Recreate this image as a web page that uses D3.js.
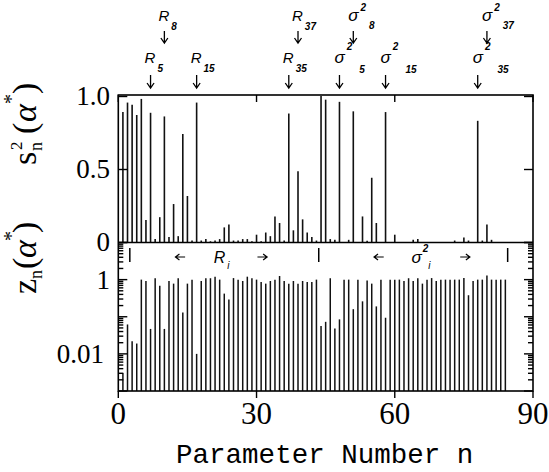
<!DOCTYPE html>
<html>
<head>
<meta charset="utf-8">
<script src="https://cdn.jsdelivr.net/npm/d3@7"></script>
<style>
  body { margin: 0; background: #fff; }
</style>
</head>
<body>
<div id="chart"></div>
<script>
// parameter numbers 1..84
var params = d3.range(1, 85);

// s_n^2(alpha*)
var s2 = [0.89, 0.955, 0.94, 0.87, 0.98, 0.15, 0.885, 0.02, 0.17, 0.86,
          0.035, 0.26, 0.04, 0.74, 0.315, 0.01, 0.955, 0.01, 0.02, 0.005,
          0.01, 0.02, 0.10, 0.12, 0.01, 0.01, 0.02, 0.02, 0.005, 0.05,
          0.005, 0.065, 0.04, 0.175, 0.13, 0.01, 0.88, 0.08, 0.485, 0.155,
          0.065, 0.035, 0.01, 1.0, 0.975, 0.02, 0.015, 0.96, 0, 0.015,
          0.895, 0, 0.175, 0.008, 0.44, 0.13, 0, 0.89, 0, 0.05,
          0, 0, 0, 0.015, 0.02, 0, 0, 0, 0, 0,
          0, 0, 0.01, 0, 0.03, 0.01, 0, 0.83, 0.01, 0.12,
          0.015, 0, 0, 0];

var zn = [0.003, 0.062, 0.022, 0.019, 1.0, 0.92, 0.047, 1.09, 0.68, 0.047,
          0.92, 0.78, 1.09, 0.13, 0.78, 1.0, 0.01, 0.92, 1.09, 1.09,
          1.2, 1.0, 0.42, 0.29, 1.1, 1.0, 0.92, 1.2, 1.09, 1.0,
          0.86, 0.78, 0.92, 1.0, 1.25, 0.92, 0.78, 0.92, 0.78, 0.92,
          0.86, 0.86, 1.0, 0.056, 0.073, 1.09, 0.048, 0.085, 1.0, 1.0,
          0.16, 1.0, 0.26, 0.95, 0.78, 0.19, 1.0, 0.094, 1.0, 1.0,
          1.0, 0.92, 1.09, 0.92, 1.09, 0.78, 1.0, 1.1, 0.92, 1.0,
          1.0, 1.0, 1.0, 1.0, 1.1, 0.38, 0.92, 1.0, 1.0, 1.3,
          1.0, 1.0, 1.0, 1.0];

var xTicks = [0, 30, 60, 90];
var topTicks = [0, 0.5, 1.0];
var topTickLabels = ["0", "0.5", "1.0"];
var botTicks = [1, 0.01];
var botTickLabels = ["1", "0.01"];

// annotations above the upper panel: parameter n, symbol, index, row
var notes = [
  {n: 7,  sym: "R", idx: "5",  row: 2},
  {n: 10, sym: "R", idx: "8",  row: 1},
  {n: 17, sym: "R", idx: "15", row: 2},
  {n: 37, sym: "R", idx: "35", row: 2},
  {n: 39, sym: "R", idx: "37", row: 1},
  {n: 48, sym: "s", idx: "5",  row: 2},
  {n: 51, sym: "s", idx: "8",  row: 1},
  {n: 58, sym: "s", idx: "15", row: 2},
  {n: 78, sym: "s", idx: "35", row: 2},
  {n: 80, sym: "s", idx: "37", row: 1}
];
// group boundaries for R_i and sigma^2_i
var groupEdges = [2.5, 43.5, 84.5];

var width = 549, height = 472;
var left = 118.3, right = 533;
var topY = 95, midY = 242.5, botY = 391;

var SERIF = '"Liberation Serif", "Zzz Nope"';
var SANS = '"Liberation Sans", "Zzz Nope"';
var MONO = '"Liberation Mono", "Zzz Nope"';

var svg = d3.select("#chart").append("svg")
    .attr("width", width)
    .attr("height", height);

var x = d3.scaleLinear().domain([0, 90]).range([left, right]);
var yTop = d3.scaleLinear().domain([0, 1]).range([242, 96]);
var yBot = d3.scaleLog().domain([0.001, 10]).range([botY, midY]);

// bars, upper panel
svg.append("g").selectAll("line")
    .data(params.filter(function(d, i) { return s2[i] > 0; }))
    .enter().append("line")
    .attr("x1", function(d) { return x(d); })
    .attr("x2", function(d) { return x(d); })
    .attr("y1", yTop(0))
    .attr("y2", function(d) { return yTop(s2[d - 1]); })
    .style("stroke", "#111")
    .style("stroke-width", 1.6);

// bars, lower panel
svg.append("g").selectAll("line")
    .data(params)
    .enter().append("line")
    .attr("x1", function(d) { return x(d); })
    .attr("x2", function(d) { return x(d); })
    .attr("y1", botY)
    .attr("y2", function(d) { return yBot(zn[d - 1]); })
    .style("stroke", "#111")
    .style("stroke-width", 1.5);

// frames
svg.append("rect")
    .attr("x", left).attr("y", topY)
    .attr("width", right - left).attr("height", botY - topY)
    .style("fill", "none").style("stroke", "#000").style("stroke-width", 1.6);
svg.append("line")
    .attr("x1", left).attr("x2", right).attr("y1", midY).attr("y2", midY)
    .style("stroke", "#000").style("stroke-width", 1.6);

// upper panel y ticks (inside, both sides)
var axTopL = d3.axisRight(yTop).tickValues(topTicks).tickSize(9).tickFormat("");
var axTopR = d3.axisLeft(yTop).tickValues(topTicks).tickSize(9).tickFormat("");
svg.append("g").attr("transform", "translate(" + left + ",0)").call(axTopL);
svg.append("g").attr("transform", "translate(" + right + ",0)").call(axTopR);

// lower panel log ticks (inside, both sides)
var logMajor = [0.001, 0.01, 0.1, 1, 10];
var logMinor = [];
[0.001, 0.01, 0.1, 1].forEach(function(d) {
  for (var k = 2; k < 10; k++) logMinor.push(d * k);
});
[[left, 1], [right, -1]].forEach(function(s) {
  svg.append("g").selectAll("line").data(logMajor).enter().append("line")
      .attr("x1", s[0]).attr("x2", s[0] + s[1] * 9)
      .attr("y1", yBot).attr("y2", yBot);
  svg.append("g").selectAll("line").data(logMinor).enter().append("line")
      .attr("x1", s[0]).attr("x2", s[0] + s[1] * 5)
      .attr("y1", yBot).attr("y2", yBot);
});

// x ticks: inside at the top frame, outside at the bottom
svg.append("g").selectAll("line").data(xTicks).enter().append("line")
    .attr("x1", x).attr("x2", x).attr("y1", topY).attr("y2", topY + 7);
svg.append("g").selectAll("line").data(xTicks).enter().append("line")
    .attr("x1", x).attr("x2", x).attr("y1", botY).attr("y2", botY + 7);

svg.selectAll(".domain").remove();
svg.selectAll("line").filter(function() { return !this.style.stroke; })
    .style("stroke", "#000").style("stroke-width", 1.4);
svg.selectAll(".tick line").style("stroke", "#000").style("stroke-width", 1.4);

// tick labels
svg.append("g").selectAll("text").data(xTicks).enter().append("text")
    .attr("x", x).attr("y", 424)
    .attr("text-anchor", "middle")
    .style("font-family", SERIF).style("font-size", "31px")
    .text(function(d) { return d; });

svg.append("g").selectAll("text").data(topTicks).enter().append("text")
    .attr("x", 110).attr("y", function(d) { return yTop(d) + 9; })
    .attr("text-anchor", "end")
    .style("font-family", SERIF).style("font-size", "27px")
    .text(function(d, i) { return topTickLabels[i]; });

svg.append("g").selectAll("text").data(botTicks).enter().append("text")
    .attr("x", function(d, i) { return i === 0 ? 110 : 104; })
    .attr("y", function(d) { return yBot(d) + 9; })
    .attr("text-anchor", "end")
    .style("font-family", SERIF).style("font-size", "27px")
    .text(function(d, i) { return botTickLabels[i]; });

// x axis title
svg.append("text")
    .attr("x", (left + right) / 2 - 1).attr("y", 463)
    .attr("text-anchor", "middle")
    .style("font-family", MONO).style("font-size", "27.5px")
    .text("Parameter Number n");

// y axis titles (rotated)
function piece(g, px, py, size, txt, italic) {
  return g.append("text").attr("x", px).attr("y", py)
      .style("font-family", SERIF).style("font-size", size + "px")
      .style("font-style", italic ? "italic" : "normal")
      .text(txt);
}
var gs = svg.append("g").attr("transform", "translate(36,165) rotate(-90)");
piece(gs, 0, 0, 34, "s");
piece(gs, 14, 6, 18, "n");
piece(gs, 15, -14, 17, "2");
piece(gs, 31, 0, 34, "(");
piece(gs, 43, 0, 34, "\u03b1", true);
piece(gs, 61, -18, 20, "*");
piece(gs, 71, 0, 34, ")");

var gz = svg.append("g").attr("transform", "translate(36,294) rotate(-90)");
piece(gz, 0, 0, 34, "z");
piece(gz, 15, 6, 18, "n");
piece(gz, 25, 0, 34, "(");
piece(gz, 36, 0, 34, "\u03b1", true);
piece(gz, 53, -18, 20, "*");
piece(gz, 61, 0, 34, ")");

// small down arrow
function downArrow(cx, y1, y2) {
  svg.append("path")
      .attr("d", "M" + cx + "," + y1 + "V" + y2 + "M" + (cx - 3.5) + "," + (y2 - 5) +
            "L" + cx + "," + y2 + "L" + (cx + 3.5) + "," + (y2 - 5))
      .style("fill", "none").style("stroke", "#000").style("stroke-width", 1.3);
}
function hArrow(x1, x2, y) {
  var d = x2 > x1 ? -1 : 1;
  svg.append("path")
      .attr("d", "M" + x1 + "," + y + "H" + x2 + "M" + (x2 + d * 4) + "," + (y - 3) +
            "L" + x2 + "," + y + "L" + (x2 + d * 4) + "," + (y + 3))
      .style("fill", "none").style("stroke", "#000").style("stroke-width", 1.2);
}

// parameter annotations
notes.forEach(function(d) {
  var ax = x(d.n);
  var base = d.row === 2 ? 63 : 21;
  var t = svg.append("text")
      .style("font-family", SANS).style("font-style", "italic");
  if (d.sym === "R") {
    t.attr("x", ax - 6).attr("y", base).style("font-size", "15px").text("R");
    t.append("tspan").attr("dx", 2).attr("dy", 9)
        .style("font-size", "10px").style("font-weight", "bold").text(d.idx);
  } else {
    t.attr("x", ax - 5).attr("y", base).style("font-size", "17px").text("\u03c3");
    t.append("tspan").attr("dx", 2).attr("dy", d.row === 2 ? -13 : -10)
        .style("font-size", "10px").style("font-weight", "bold").text("2");
    t.append("tspan").attr("dx", d.row === 2 ? 7 : 3).attr("dy", d.row === 2 ? 23 : 18)
        .style("font-size", "10px").style("font-weight", "bold").text(d.idx);
  }
  if (d.row === 2) downArrow(ax, 75, 88);
  else downArrow(ax, 31, 43);
});

// group markers in lower panel
svg.append("g").selectAll("line").data(groupEdges).enter().append("line")
    .attr("x1", x).attr("x2", x).attr("y1", 248).attr("y2", 262)
    .style("stroke", "#000").style("stroke-width", 1.5);

var rMid = x(22), sMid = x(64.7);
svg.append("text").attr("x", rMid - 6).attr("y", 263)
    .style("font-family", SANS).style("font-style", "italic").style("font-size", "16px")
    .text("R")
    .append("tspan").attr("dx", 2).attr("dy", 6).style("font-size", "10px").text("i");
hArrow(x(14.5), x(12.4), 257);
hArrow(x(30.2), x(32.3), 257);

var st = svg.append("text").attr("x", sMid - 5).attr("y", 263)
    .style("font-family", SANS).style("font-style", "italic").style("font-size", "17px")
    .text("\u03c3");
st.append("tspan").attr("dx", 1).attr("dy", -11).style("font-size", "10px").style("font-weight", "bold").text("2");
st.append("tspan").attr("dx", 0).attr("dy", 17).style("font-size", "10px").text("i");
hArrow(x(57.6), x(55.5), 257);
hArrow(x(74.2), x(76.3), 257);
</script>
</body>
</html>
